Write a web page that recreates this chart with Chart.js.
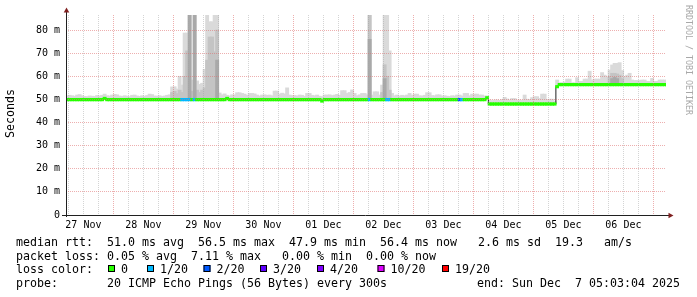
<!DOCTYPE html>
<html><head><meta charset="utf-8">
<script src="https://cdn.jsdelivr.net/npm/chart.js@4.4.1/dist/chart.umd.min.js"></script>
<style>html,body{margin:0;padding:0;background:#fff;}#wrap{width:697px;height:297px;}</style>
</head><body><div id="wrap"><canvas id="c" width="697" height="297"></canvas></div>
<script>
// ---- data (hours since 27 Nov 00:00) ----
const dayLabels = ['27 Nov','28 Nov','29 Nov','30 Nov','01 Dec','02 Dec','03 Dec','04 Dec','05 Dec','06 Dec'];
const yTickLabels = ['0','10 m','20 m','30 m','40 m','50 m','60 m','70 m','80 m'];
const startHour = 5.05, endHour = 245.05, yMax = 86.5;
const firstHour = 5;
// upper edge of the smoke (max ping), one value per hour, ms
const smokeMax = [
 51.5,51.8,51.6,51.4,51.9,52.1,51.6,51.3,51.2,51.5,51.4,51.3,51.7,51.5,51.8,52.3,51.6,51.5,51.9,
 52.2,52.0,51.5,51.3,51.6,51.4,51.2,51.8,51.9,51.5,51.3,51.6,51.4,51.7,52.3,52.1,51.5,51.4,51.6,51.3,51.5,51.8,52.0,55.4,
 55.5,54.5,60.0,56.2,78.7,78.7,86.5,58.4,86.5,58.0,56.5,57.0,63.0,86.5,83.6,83.6,86.5,86.5,52.8,52.0,52.4,51.8,51.5,52.0,
 52.0,52.9,52.9,52.6,52.3,51.8,52.6,52.6,52.4,51.9,51.5,51.9,52.0,51.8,51.9,51.6,53.6,53.6,52.3,52.7,52.4,55.0,51.9,51.7,
 51.7,51.5,51.9,51.8,51.4,52.6,52.6,51.8,51.6,51.9,51.4,51.2,51.9,51.9,52.0,51.7,51.9,52.2,51.8,53.8,53.8,52.6,53.0,54.1,
 52.6,51.6,52.0,52.6,52.6,52.0,86.5,51.9,53.3,53.3,51.9,56.2,86.5,86.5,71.0,52.6,51.6,51.9,51.5,51.8,51.6,51.9,52.6,51.8,
 52.3,52.3,51.6,51.5,51.8,52.9,52.9,51.7,51.6,52.0,52.0,51.5,51.6,51.4,51.3,51.6,51.5,51.9,51.9,51.5,52.6,52.6,51.6,52.3,
 52.3,52.3,51.9,51.9,51.5,51.5,
 49.8,49.5,49.7,49.8,49.6,50.0,50.9,50.2,49.8,50.4,50.4,49.7,49.8,49.6,51.9,50.1,50.0,50.8,
 51.2,51.2,50.4,52.3,52.3,50.0,50.1,50.1,49.3,
 58.4,57.2,57.2,57.5,58.8,58.8,57.2,57.2,59.4,57.8,57.8,58.8,58.8,62.2,58.4,
 58.8,58.8,58.8,61.6,60.5,59.6,62.7,64.9,65.6,65.6,65.9,62.5,59.9,60.5,61.3,58.4,58.2,58.2,58.2,58.4,58.4,57.8,57.8,59.1,57.8,57.8,58.4,58.4,58.4,58.4
];
// denser smoke layers (hour, top in ms)
const midHours = [47,48,49,50,51,52,53,55,57,58,59,60,61,62,63,64,65,126,131,132,133,134,222,223,224,225,226,227];
const midTops  = [53.0,53.5,52.5,54.0,53.0,60.0,71.0,53.5,54.0,53.0,54.0,55.0,67.0,77.0,77.0,70.6,80.0,86.5,53.0,65.0,60.0,54.0,60.0,61.3,61.3,61.0,60.5,59.0];
const darkHours = [54,56,65,126,132,223,224,225];
const darkTops  = [86.5,86.5,67.0,76.0,59.0,59.0,59.5,59.0];
// median rtt as change points [hour, ms]
const medianSteps = [[5,49.9],[20,50.4],[21,49.9],[69,50.4],[70,49.9],[107,49.3],[108,49.9],[173,50.7],[174,48.0],[201,55.5],[202,56.4]];
// packet loss (pings lost of 20) as change points [hour, lost]
const lossSteps = [[5,0],[51,1],[55,0],[56,1],[57,0],[126,1],[127,0],[133,1],[135,0],[162,2],[163,1],[164,0]];
const lossLegend = [['0','#26ff00'],['1/20','#00b8ff'],['2/20','#0059ff'],['3/20','#5e00ff'],['4/20','#7e00ff'],['10/20','#dd00ff'],['19/20','#ff0000']];
const lossColor = {0:'#26ff00',1:'#00b8ff',2:'#0059ff'};
const legendLines = [
 'median rtt:  51.0 ms avg  56.5 ms max  47.9 ms min  56.4 ms now   2.6 ms sd  19.3   am/s',
 'packet loss: 0.05 % avg  7.11 % max   0.00 % min  0.00 % now',
 'loss color:',
 'probe:       20 ICMP Echo Pings (56 Bytes) every 300s'
];
const endText = 'end: Sun Dec  7 05:03:04 2025';

// ---- build tables ----
function stepAt(steps, h){ let v = steps[0][1]; for (const s of steps) if (h >= s[0]) v = s[1]; return v; }
const hours = smokeMax.map((_, i) => firstHour + i);
const medianAt = hours.map(h => stepAt(medianSteps, h));
const lossAt = hours.map(h => stepAt(lossSteps, h));
const xTicks = [];
for (let d = 0; d <= dayLabels.length; d++) for (const q of [0,6,12,18]) { const h = 24*d+q; if (h >= startHour && h <= endHour) xTicks.push(h); }
const yTicks = []; for (let v = 0; v <= 85; v += 5) yTicks.push(v);

const MONO = '"DejaVu Sans Mono", monospace';
const MAJOR = 'rgba(222,110,110,0.55)', MINOR = 'rgba(160,160,160,0.45)';

const decor = {
  id: 'decor',
  afterDraw(chart) {
    const ctx = chart.ctx, a = chart.chartArea;
    ctx.save();
    const ax = Math.round(a.left) + 0.5, ay = Math.round(a.bottom) + 0.5;
    ctx.strokeStyle = '#202020'; ctx.lineWidth = 1;
    ctx.beginPath(); ctx.moveTo(ax, a.bottom + 2); ctx.lineTo(ax, a.top - 3); ctx.stroke();
    ctx.beginPath(); ctx.moveTo(a.left - 4, ay); ctx.lineTo(a.right + 3, ay); ctx.stroke();
    ctx.fillStyle = '#7f1f1f';
    ctx.beginPath(); ctx.moveTo(ax, a.top - 7.5); ctx.lineTo(ax - 2.8, a.top - 2.5); ctx.lineTo(ax + 2.8, a.top - 2.5); ctx.closePath(); ctx.fill();
    ctx.beginPath(); ctx.moveTo(a.right + 7.5, ay); ctx.lineTo(a.right + 2.5, ay - 2.8); ctx.lineTo(a.right + 2.5, ay + 2.8); ctx.closePath(); ctx.fill();
    // axis title
    ctx.fillStyle = '#000';
    ctx.font = '11.63px ' + MONO;
    ctx.save(); ctx.translate(10.5, 113.5); ctx.rotate(-Math.PI/2);
    ctx.textAlign = 'center'; ctx.textBaseline = 'middle'; ctx.fillText('Seconds', 0, 0); ctx.restore();
    // watermark
    ctx.save(); ctx.translate(688.5, 60); ctx.rotate(Math.PI/2);
    ctx.fillStyle = '#a8a8a8'; ctx.font = '8.3px ' + MONO;
    ctx.textAlign = 'center'; ctx.textBaseline = 'middle'; ctx.fillText('RRDTOOL / TOBI OETIKER', 0, 0); ctx.restore();
    // legend
    ctx.fillStyle = '#000'; ctx.font = '11.63px ' + MONO; ctx.textAlign = 'left'; ctx.textBaseline = 'alphabetic';
    const base = [246, 259.5, 273, 286.5];
    legendLines.forEach((t, i) => ctx.fillText(t, 16, base[i]));
    ctx.textAlign = 'right'; ctx.fillText(endText, 680, base[3]); ctx.textAlign = 'left';
    const boxX = [108, 147, 203.5, 260, 317, 377.5, 442];
    lossLegend.forEach((it, i) => {
      const x = boxX[i];
      ctx.fillStyle = it[1]; ctx.fillRect(x, 265, 7, 7);
      ctx.strokeStyle = '#000'; ctx.strokeRect(x + 0.5, 265.5, 6, 6);
      ctx.fillStyle = '#000'; ctx.fillText(it[0], x + 13, base[2]);
    });
    ctx.restore();
  }
};

const barCommon = { type: 'bar', grouped: false, barThickness: 3.2, borderWidth: 0 };
new Chart(document.getElementById('c'), {
  type: 'bar',
  data: { datasets: [
    Object.assign({}, barCommon, { label: 'median', order: 1,
      data: hours.map((h, i) => ({ x: h + 0.5, y: [medianAt[i] - 0.55, medianAt[i] + 0.55] })),
      backgroundColor: hours.map((h, i) => lossColor[lossAt[i]]) }),
    { type: 'line', label: 'medianLine', order: 2, stepped: true, borderColor: '#202020', borderWidth: 1, pointRadius: 0, fill: false,
      data: medianSteps.map(s => ({ x: s[0], y: s[1] })).concat([{ x: endHour + 1, y: medianSteps[medianSteps.length - 1][1] }]) },
    Object.assign({}, barCommon, { label: 'dark', order: 3, backgroundColor: '#a9a9a9',
      data: darkHours.map((h, i) => ({ x: h + 0.5, y: [stepAt(medianSteps, h), darkTops[i]] })) }),
    Object.assign({}, barCommon, { label: 'mid', order: 4, backgroundColor: '#c4c4c4',
      data: midHours.map((h, i) => ({ x: h + 0.5, y: [stepAt(medianSteps, h), midTops[i]] })) }),
    Object.assign({}, barCommon, { label: 'smoke', order: 5, backgroundColor: '#dadada',
      data: hours.map((h, i) => ({ x: h + 0.5, y: [medianAt[i], smokeMax[i]] })) })
  ]},
  options: {
    responsive: false, animation: false, devicePixelRatio: 1,
    layout: { padding: { left: 0, top: 15, right: 31, bottom: 52 } },
    plugins: { legend: { display: false }, tooltip: { enabled: false } },
    scales: {
      x: { type: 'linear', min: startHour, max: endHour, offset: false,
        grid: { offset: false, z: 1, drawTicks: false, lineWidth: 1, color: c => (c.tick && c.tick.value % 24 === 0) ? MAJOR : MINOR },
        border: { display: false, dash: [1, 1] },
        afterBuildTicks: s => { s.ticks = xTicks.map(v => ({ value: v })); },
        afterFit: s => { s.height = 30; },
        ticks: { autoSkip: false, maxRotation: 0, minRotation: 0, padding: 4, color: '#000', font: { family: MONO, size: 10 },
          callback: v => (v % 24 === 12) ? dayLabels[(v - 12) / 24] : '' } },
      y: { type: 'linear', min: 0, max: yMax,
        grid: { z: 1, drawTicks: false, lineWidth: 1, color: c => (c.tick && c.tick.value % 10 === 0) ? MAJOR : MINOR },
        border: { display: false, dash: [1, 1] },
        afterBuildTicks: s => { s.ticks = yTicks.map(v => ({ value: v })); },
        afterFit: s => { s.width = 66; },
        ticks: { padding: 6, color: '#000', font: { family: MONO, size: 10 },
          callback: v => (v % 10 === 0) ? yTickLabels[v / 10] : '' } }
    }
  },
  plugins: [decor]
});
</script></body></html>
